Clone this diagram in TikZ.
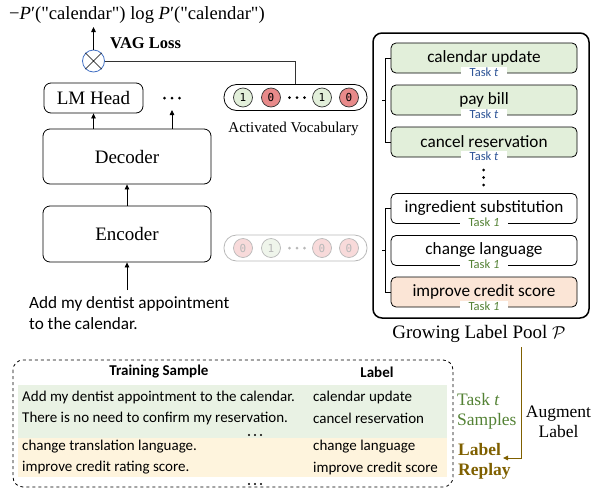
\documentclass[tikz,border=0pt]{standalone}
\usepackage{fontspec}
\setmainfont{Liberation Serif}
\newfontfamily\sansf{Carlito}
\newfontfamily\monof{DejaVu Sans Mono}
\newfontfamily\qserif{Liberation Serif}[Ligatures=TeXOff]
\usetikzlibrary{arrows.meta}
\definecolor{boxgreen}{HTML}{E2EFDA}
\definecolor{boxpeach}{HTML}{FBE5D6}
\definecolor{circred}{HTML}{E88A8A}
\definecolor{bandgreen}{HTML}{E9F2E4}
\definecolor{bandyellow}{HTML}{FEF4DD}
\definecolor{taskblue}{HTML}{2F5597}
\definecolor{taskgreen}{HTML}{548235}
\definecolor{brownc}{HTML}{7F6000}
\definecolor{lossblue}{HTML}{4472C4}
\definecolor{fadegray}{HTML}{B8B8B8}
\definecolor{fadered}{HTML}{F8DADA}
\definecolor{fadegreen}{HTML}{EFF5EB}
\newcommand{\fsz}[1]{\fontsize{#1}{#1}\selectfont}
\begin{document}
\begin{tikzpicture}[x=1pt,y=-1pt,
  modbox/.style={draw, rounded corners=7, line width=0.8, inner sep=0, font=\fsz{19}},
  arr/.style={-{Triangle[length=5,width=4.5]}, line width=0.8},
  vc/.style={circle, draw=black!80, line width=0.7, minimum size=19, inner sep=0, font=\monof\fsz{11}},
  vgreen/.style={vc, fill=boxgreen},
  vred/.style={vc, fill=circred},
  fgreen/.style={vc, draw=fadegray, fill=fadegreen, text=fadegray},
  fred/.style={vc, draw=fadegray, fill=fadered, text=fadegray},
  labbox/.style={draw, rounded corners=5, line width=0.8, minimum width=186, minimum height=30, inner sep=0, font=\sansf\fsz{17.2}},
  tasklab/.style={fill=white, inner xsep=9, inner ysep=0.5, font=\sansf\fsz{12.5}},
  tabtext/.style={anchor=west, inner sep=0, font=\sansf\fsz{15}},
  dotsnode/.style={inner sep=0, minimum width=18, minimum height=4},
]
\useasboundingbox (0,0) rectangle (597,488);

% ---------- left model ----------
\node[anchor=west, inner sep=0, font=\qserif\fsz{18.6}] (formula) at (9,15)
  {−\textit{P}′("calendar") log \textit{P}′("calendar")};
\coordinate (out) at (93.5,27);
\node[circle, draw=lossblue, line width=0.8, minimum size=22, inner sep=0] (loss) at (93.5,61) {};
\draw[line width=0.7] (loss.north west) -- (loss.south east) (loss.north east) -- (loss.south west);
\node[anchor=west, inner sep=0, font=\bfseries\fsz{16.5}] (vag) at (110,43) {VAG Loss};
\draw[arr] (loss.north) -- (out);

\node[modbox, minimum width=99, minimum height=30] (lm) at (93.5,98) {LM Head};
\node[dotsnode] (dots) at (172,98) {};
\node[modbox, minimum width=168, minimum height=55] (dec) at (127,156.5) {Decoder};
\node[modbox, minimum width=168, minimum height=56] (enc) at (127,234) {Encoder};
\draw[arr] (dec.north -| lm) -- (lm.south);
\draw[arr] (dec.north -| dots) -- (172,110);
\draw[arr] (enc.north) -- (dec.south);
\node[anchor=north west, inner sep=0, align=left, font=\sansf\fsz{17.2}] (input) at (29,296)
  {Add my dentist appointment\\[4pt]to the calendar.};
\coordinate (in) at (127,290);
\draw[arr] (in) -- (enc.south);

% ---------- activated vocabulary ----------
\node[draw, line width=0.8, rounded corners=12.5, minimum width=143, minimum height=26, inner sep=0] (pill) at (295.5,97.5) {};
\node[vgreen] (v1) at (243,97.5) {1};
\node[vred] (v2) at (271,97.5) {0};
\node[dotsnode] (vd) at (297,97.5) {};
\node[vgreen] (v3) at (322,97.5) {1};
\node[vred] (v4) at (349,97.5) {0};
\node[inner sep=0, font=\fsz{15}] (avlab) at (293.5,129) {Activated Vocabulary};
\draw[line width=0.8, black!80] (loss.east) -| (pill.north);

\node[draw=fadegray, line width=0.8, rounded corners=12.5, minimum width=143, minimum height=26, inner sep=0] (fpill) at (295.5,248) {};
\node[fred] (f1) at (243,248) {0};
\node[fgreen] (f2) at (271,248) {1};
\node[dotsnode] (fd) at (297,248) {};
\node[fred] (f3) at (322,248) {0};
\node[fred] (f4) at (349,248) {0};

% dots
\foreach \d in {dots,vd}{
  \foreach \dx in {-7.5,0,7.5}{\fill ([xshift=\dx]\d.center) circle (1.5);}
}
\foreach \dx in {-7.5,0,7.5}{\fill[fadegray] ([xshift=\dx]fd.center) circle (1.5);}

% ---------- label pool ----------
\node[draw, line width=1.5, rounded corners=9, minimum width=216, minimum height=285, inner sep=0] (panel) at (481,175.5) {};
\node[labbox, fill=boxgreen] (cal) at (484,58) {calendar update};
\node[labbox, fill=boxgreen] (pay) at (484,100) {pay bill};
\node[labbox, fill=boxgreen] (canc) at (484,142) {cancel reservation};
\node[labbox] (ingr) at (484,208.5) {ingredient substitution};
\node[labbox] (lang) at (484,250.5) {change language};
\node[labbox, fill=boxpeach] (cred) at (484,292) {improve credit score};
\foreach \n in {cal,pay,canc}{
  \node[tasklab, text=taskblue] at ([yshift=1.5]\n.south) {Task \textit{t}};
}
\foreach \n in {ingr,lang,cred}{
  \node[tasklab, text=taskgreen] at ([yshift=1.5]\n.south) {Task \textit{1}};
}
\foreach \yy in {170,177.5,185}{\fill (483.5,\yy) circle (1.5);}
\draw[line width=0.8] (cal.west) -- ++(-5,0) coordinate (b1) |- (canc.west);
\draw[line width=0.8] (b1 |- pay.west) -- ++(-4,0);
\draw[line width=0.8] (ingr.west) -- ++(-5,0) coordinate (b2) |- (cred.west);
\draw[line width=0.8] (b2 |- lang.west) -- ++(-4,0);
\node[inner sep=0, font=\fsz{19}] (pool) at (479,334) {Growing Label Pool $\mathcal{P}$};

% ---------- training table ----------
\fill[bandgreen] (18,385) rectangle (447,438);
\fill[bandyellow] (18,438) rectangle (447,477);
\draw[dashed, line width=0.8, rounded corners=10] (13,360) rectangle (453,487);
\node[inner sep=0, font=\sansf\bfseries\fsz{15}] (th1) at (159,372) {Training Sample};
\node[inner sep=0, font=\sansf\bfseries\fsz{15}] (th2) at (377,372) {Label};
\node[tabtext] (s1) at (22,397) {Add my dentist appointment to the calendar.};
\node[tabtext] (l1) at (313,397) {calendar update};
\node[tabtext] (s2) at (22,418) {There is no need to confirm my reservation.};
\node[tabtext] (l2) at (313,418) {cancel reservation};
\node[dotsnode] (td1) at (255,435) {};
\node[tabtext] (s3) at (22,447) {change translation language.};
\node[tabtext] (l3) at (313,447) {change language};
\node[tabtext] (s4) at (22,468) {improve credit rating score.};
\node[tabtext] (l4) at (313,468) {improve credit score};
\node[dotsnode] (td2) at (255,484) {};
\foreach \d in {td1,td2}{
  \foreach \dx in {-6,0,6}{\fill ([xshift=\dx]\d.center) circle (1.2);}
}

\node[anchor=west, inner sep=0, text=taskgreen, font=\fsz{17.5}] (tt) at (457,400) {Task \textit{t}};
\node[anchor=west, inner sep=0, text=taskgreen, font=\fsz{17.5}] (ts) at (457,421) {Samples};
\node[anchor=west, inner sep=0, text=brownc, font=\bfseries\fsz{17.5}] (lr1) at (458,450) {Label};
\node[anchor=west, inner sep=0, text=brownc, font=\bfseries\fsz{17.5}] (lr2) at (458,471) {Replay};
\node[inner sep=0, align=center, font=\fsz{17.5}] (aug) at (558.5,422) {Augment\\[2pt]Label};
\coordinate (a1) at (521,347);
\coordinate (a2) at (503,458);
\draw[line width=1, brownc, -{Triangle[length=5,width=4.5]}] (a1) |- (a2);
\end{tikzpicture}
\end{document}
